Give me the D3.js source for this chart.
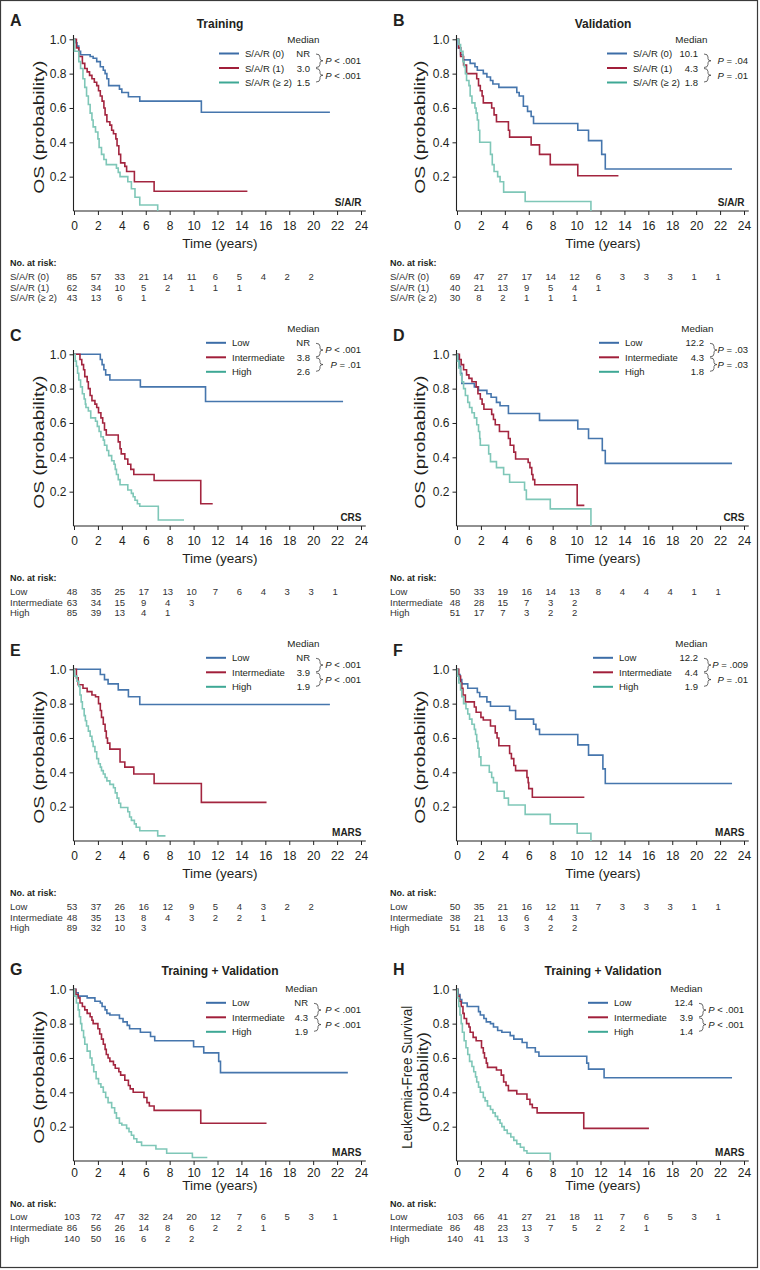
<!DOCTYPE html>
<html><head><meta charset="utf-8">
<script src="https://cdn.jsdelivr.net/npm/d3@7"></script>
<style>
body{margin:0;background:#fff;}
svg{display:block;font-family:"Liberation Sans",Arial,Helvetica,sans-serif;}
</style></head><body>
<svg id="chart" width="760" height="1270"></svg>
<script>
// ---------- shared tick / category arrays ----------
const timeTicks = [0,2,4,6,8,10,12,14,16,18,20,22,24];
const probTicks = [0.2,0.4,0.6,0.8,1.0];
const riskTimes = [0,2,4,6,8,10,12,14,16,18,20,22];
const sarGroups = ["S/A/R (0)","S/A/R (1)","S/A/R (\u2265 2)"];
const riskGroups = ["Low","Intermediate","High"];

// ---------- Panel A : Training, S/A/R ----------
const A_g0 = [[0,1],[0.1,0.98],[0.25,0.96],[0.4,0.93],[0.55,0.91],[1.35,0.90],[1.6,0.89],[1.9,0.87],[2.2,0.84],[2.45,0.82],[2.6,0.80],[2.75,0.77],[2.9,0.73],[3.8,0.71],[4.0,0.69],[4.55,0.665],[5.5,0.64],[10.65,0.575],[21.4,0.575]];
const A_g1 = [[0,1],[0.2,0.95],[0.4,0.90],[0.7,0.86],[0.9,0.83],[1.1,0.81],[1.3,0.79],[1.5,0.77],[1.7,0.75],[1.9,0.73],[2.05,0.70],[2.2,0.67],[2.35,0.64],[2.5,0.60],[2.6,0.56],[2.75,0.52],[3.0,0.50],[3.15,0.47],[3.3,0.45],[3.5,0.42],[3.6,0.38],[3.75,0.33],[3.9,0.28],[4.25,0.26],[4.4,0.23],[5.05,0.17],[6.7,0.115],[14.5,0.115]];
const A_g2 = [[0,1],[0.05,0.93],[0.4,0.87],[0.55,0.83],[0.75,0.77],[0.9,0.72],[1.05,0.67],[1.2,0.62],[1.35,0.57],[1.5,0.53],[1.6,0.49],[1.8,0.46],[2.0,0.42],[2.1,0.37],[2.3,0.33],[2.5,0.30],[2.7,0.27],[3.55,0.25],[3.7,0.225],[3.85,0.20],[4.5,0.17],[4.8,0.13],[5.1,0.08],[5.5,0.035],[7.0,0]];
const A_medians = ["NR","3.0","1.5"];
const A_pvals = ["< .001","< .001"];
const A_risk = [[85,57,33,21,14,11,6,5,4,2,2],[62,34,10,5,2,1,1,1],[43,13,6,1]];

// ---------- Panel B : Validation, S/A/R ----------
const B_g0 = [[0,1],[0.1,0.95],[0.3,0.91],[0.5,0.88],[1.1,0.86],[1.5,0.84],[1.7,0.82],[2.2,0.80],[2.5,0.78],[2.8,0.76],[3.0,0.74],[3.5,0.72],[5.0,0.69],[5.2,0.67],[5.55,0.61],[5.9,0.58],[6.2,0.55],[6.4,0.51],[10.1,0.47],[11.0,0.41],[12.1,0.33],[12.4,0.245],[23.0,0.245]];
const B_g1 = [[0,1],[0.15,0.95],[0.3,0.90],[0.55,0.85],[0.8,0.80],[1.65,0.77],[1.8,0.73],[1.95,0.70],[2.1,0.67],[2.2,0.63],[2.9,0.60],[3.1,0.56],[3.3,0.52],[4.3,0.47],[4.4,0.43],[6.2,0.385],[6.9,0.33],[7.8,0.27],[10.1,0.205],[13.5,0.205]];
const B_g2 = [[0,1],[0.15,0.97],[0.3,0.93],[0.5,0.87],[0.6,0.84],[0.7,0.80],[0.8,0.76],[1.0,0.73],[1.1,0.67],[1.25,0.63],[1.5,0.60],[1.6,0.57],[1.7,0.53],[1.8,0.47],[1.9,0.40],[2.8,0.33],[2.95,0.27],[3.1,0.23],[3.4,0.20],[3.6,0.17],[3.9,0.11],[5.7,0.055],[11.2,0]];
const B_medians = ["10.1","4.3","1.8"];
const B_pvals = ["= .04","= .01"];
const B_risk = [[69,47,27,17,14,12,6,3,3,3,1,1],[40,21,13,9,5,4,1],[30,8,2,1,1,1]];

// ---------- Panel C : Training, CRS ----------
const C_low = [[0,1],[2.2,0.97],[2.35,0.94],[2.5,0.91],[2.65,0.88],[3.0,0.85],[5.55,0.81],[11.0,0.725],[22.5,0.725]];
const C_int = [[0,1],[0.5,0.97],[0.65,0.94],[0.8,0.91],[0.9,0.87],[1.1,0.84],[1.2,0.80],[1.35,0.76],[1.5,0.73],[1.75,0.71],[1.9,0.69],[2.05,0.66],[2.25,0.63],[2.4,0.60],[2.55,0.56],[2.7,0.53],[3.7,0.49],[3.85,0.45],[3.95,0.42],[4.25,0.39],[4.5,0.36],[4.75,0.33],[5.0,0.30],[6.7,0.265],[10.6,0.13],[11.6,0.13]];
const C_high = [[0,1],[0.1,0.96],[0.2,0.93],[0.3,0.89],[0.4,0.85],[0.55,0.81],[0.7,0.77],[0.85,0.74],[0.95,0.71],[1.0,0.69],[1.2,0.67],[1.4,0.63],[1.8,0.61],[1.95,0.58],[2.1,0.55],[2.25,0.52],[2.45,0.50],[2.55,0.47],[2.75,0.44],[2.9,0.41],[3.15,0.38],[3.35,0.36],[3.45,0.33],[3.55,0.30],[3.7,0.27],[3.85,0.24],[4.5,0.21],[4.8,0.19],[4.95,0.17],[5.1,0.15],[5.3,0.13],[5.5,0.115],[7.05,0.035],[9.2,0.035]];
const C_medians = ["NR","3.8","2.6"];
const C_pvals = ["< .001","= .01"];
const C_risk = [[48,35,25,17,13,10,7,6,4,3,3,1],[63,34,15,9,4,3],[85,39,13,4,1]];

// ---------- Panel D : Validation, CRS ----------
const D_low = [[0,1],[0.1,0.97],[0.2,0.93],[0.3,0.89],[0.4,0.83],[1.45,0.81],[1.8,0.79],[2.5,0.77],[2.85,0.75],[3.3,0.72],[3.6,0.70],[4.3,0.655],[6.9,0.615],[10.1,0.565],[11.0,0.51],[12.15,0.44],[12.4,0.365],[23.0,0.365]];
const D_int = [[0,1],[0.2,0.97],[0.35,0.94],[0.55,0.91],[0.8,0.88],[1.0,0.86],[1.25,0.84],[1.6,0.81],[1.75,0.77],[1.95,0.74],[2.1,0.71],[2.25,0.68],[2.9,0.65],[3.05,0.62],[3.2,0.59],[3.55,0.55],[4.3,0.51],[4.45,0.47],[4.75,0.43],[4.9,0.39],[5.95,0.37],[6.1,0.34],[6.25,0.30],[6.35,0.27],[6.5,0.24],[10.05,0.12],[10.65,0.12]];
const D_high = [[0,1],[0.05,0.96],[0.15,0.92],[0.3,0.88],[0.4,0.84],[0.55,0.80],[0.7,0.76],[0.9,0.72],[1.05,0.69],[1.25,0.66],[1.45,0.63],[1.65,0.59],[1.8,0.55],[1.9,0.51],[1.95,0.47],[2.65,0.42],[2.8,0.375],[3.3,0.34],[3.9,0.30],[4.4,0.255],[5.65,0.21],[5.8,0.155],[7.8,0.10],[11.2,0]];
const D_medians = ["12.2","4.3","1.8"];
const D_pvals = ["= .03","= .03"];
const D_risk = [[50,33,19,16,14,13,8,4,4,4,1,1],[48,28,15,7,3,2],[51,17,7,3,2,2]];

// ---------- Panel E : Training, MARS ----------
const E_low = [[0,1],[2.2,0.97],[2.55,0.94],[2.85,0.915],[3.7,0.88],[4.55,0.84],[5.5,0.795],[21.4,0.795]];
const E_int = [[0,1],[0.2,0.95],[0.35,0.91],[0.75,0.89],[1.1,0.87],[1.5,0.85],[1.8,0.84],[2.05,0.80],[2.2,0.76],[2.3,0.72],[2.45,0.68],[2.6,0.64],[2.7,0.60],[2.8,0.57],[3.0,0.535],[3.85,0.46],[4.25,0.43],[5.0,0.39],[6.7,0.335],[10.65,0.225],[16.1,0.225]];
const E_high = [[0,1],[0.05,0.96],[0.25,0.93],[0.4,0.90],[0.5,0.85],[0.6,0.81],[0.7,0.77],[0.85,0.73],[0.95,0.70],[1.05,0.67],[1.2,0.64],[1.35,0.61],[1.5,0.58],[1.6,0.55],[1.75,0.52],[1.9,0.48],[2.05,0.45],[2.2,0.43],[2.3,0.41],[2.45,0.39],[2.6,0.37],[2.75,0.35],[3.0,0.33],[3.3,0.31],[3.45,0.28],[3.6,0.25],[3.75,0.22],[3.9,0.195],[4.5,0.17],[4.65,0.14],[4.8,0.12],[5.05,0.10],[5.2,0.08],[5.5,0.06],[7.0,0.03],[7.65,0.03]];
const E_medians = ["NR","3.9","1.9"];
const E_pvals = ["< .001","< .001"];
const E_risk = [[53,37,26,16,12,9,5,4,3,2,2],[48,35,13,8,4,3,2,2,1],[89,32,10,3]];

// ---------- Panel F : Validation, MARS ----------
const F_low = [[0,1],[0.1,0.97],[0.25,0.94],[0.4,0.915],[0.9,0.89],[1.7,0.865],[1.9,0.84],[2.5,0.81],[2.8,0.785],[4.4,0.76],[4.9,0.71],[6.4,0.68],[6.6,0.65],[6.9,0.62],[10.1,0.56],[11.0,0.50],[12.2,0.42],[12.4,0.335],[23.0,0.335]];
const F_int = [[0,1],[0.15,0.96],[0.3,0.92],[0.4,0.89],[0.5,0.85],[0.7,0.81],[1.45,0.78],[1.6,0.75],[2.0,0.72],[2.2,0.705],[2.8,0.67],[3.2,0.63],[3.35,0.60],[3.5,0.555],[4.4,0.51],[4.55,0.48],[4.75,0.44],[4.9,0.41],[5.85,0.37],[5.95,0.34],[6.0,0.305],[6.3,0.255],[10.65,0.255]];
const F_high = [[0,1],[0.05,0.96],[0.15,0.92],[0.3,0.88],[0.4,0.84],[0.55,0.80],[0.75,0.77],[0.9,0.74],[1.05,0.71],[1.25,0.68],[1.45,0.65],[1.55,0.62],[1.65,0.58],[1.75,0.54],[1.85,0.49],[2.0,0.44],[2.7,0.40],[2.9,0.37],[3.05,0.34],[3.35,0.29],[3.95,0.25],[4.3,0.21],[5.7,0.155],[7.8,0.10],[10.05,0.045],[11.2,0]];
const F_medians = ["12.2","4.4","1.9"];
const F_pvals = ["= .009","= .01"];
const F_risk = [[50,35,21,16,12,11,7,3,3,3,1,1],[38,21,13,6,4,3],[51,18,6,3,2,2]];

// ---------- Panel G : Training + Validation, MARS (OS) ----------
const G_low = [[0,1],[0.15,0.98],[0.35,0.96],[1.1,0.95],[1.75,0.93],[2.2,0.92],[2.35,0.90],[2.6,0.88],[2.75,0.86],[3.0,0.85],[3.8,0.83],[4.1,0.81],[4.45,0.79],[4.65,0.77],[5.55,0.75],[6.4,0.725],[6.75,0.70],[10.0,0.665],[10.85,0.63],[12.1,0.58],[12.25,0.515],[22.9,0.515]];
const G_int = [[0,1],[0.15,0.97],[0.35,0.95],[0.5,0.92],[0.7,0.90],[0.9,0.88],[1.1,0.86],[1.35,0.84],[1.5,0.82],[1.6,0.80],[2.0,0.77],[2.15,0.74],[2.3,0.71],[2.45,0.68],[2.6,0.65],[2.7,0.62],[2.85,0.60],[3.0,0.58],[3.3,0.56],[3.45,0.54],[3.75,0.52],[3.9,0.50],[4.25,0.47],[4.55,0.44],[4.7,0.42],[4.95,0.40],[5.85,0.37],[6.1,0.34],[6.3,0.32],[6.7,0.295],[10.6,0.22],[16.1,0.22]];
const G_high = [[0,1],[0.05,0.96],[0.2,0.92],[0.35,0.88],[0.45,0.84],[0.55,0.80],[0.65,0.76],[0.8,0.72],[0.9,0.68],[1.1,0.64],[1.35,0.60],[1.5,0.56],[1.65,0.52],[1.85,0.48],[2.05,0.45],[2.25,0.43],[2.45,0.40],[2.65,0.37],[2.85,0.34],[3.15,0.31],[3.4,0.28],[3.55,0.25],[3.8,0.22],[4.0,0.21],[4.4,0.19],[4.6,0.17],[4.8,0.15],[5.0,0.13],[5.25,0.11],[5.65,0.09],[6.85,0.07],[7.75,0.045],[9.9,0.02],[11.15,0.02]];
const G_medians = ["NR","4.3","1.9"];
const G_pvals = ["< .001","< .001"];
const G_risk = [[103,72,47,32,24,20,12,7,6,5,3,1],[86,56,26,14,8,6,2,2,1],[140,50,16,6,2,2]];

// ---------- Panel H : Training + Validation, MARS (LFS) ----------
const H_low = [[0,1],[0.1,0.97],[0.25,0.94],[0.4,0.92],[0.85,0.90],[1.8,0.87],[1.95,0.85],[2.25,0.83],[2.45,0.81],[2.8,0.80],[3.05,0.78],[3.4,0.76],[3.75,0.75],[4.45,0.73],[4.75,0.71],[5.45,0.69],[5.85,0.66],[6.55,0.635],[6.85,0.61],[10.85,0.57],[11.0,0.535],[12.3,0.485],[23.0,0.485]];
const H_int = [[0,1],[0.05,0.96],[0.2,0.93],[0.35,0.90],[0.5,0.86],[0.6,0.83],[0.8,0.80],[1.0,0.78],[1.1,0.75],[1.35,0.72],[1.6,0.70],[2.05,0.66],[2.2,0.63],[2.3,0.60],[2.45,0.57],[2.55,0.545],[3.3,0.53],[3.7,0.50],[3.9,0.46],[4.1,0.44],[4.3,0.41],[5.0,0.39],[5.85,0.36],[6.1,0.33],[6.3,0.31],[6.7,0.28],[10.6,0.19],[16.05,0.19]];
const H_high = [[0,1],[0.05,0.95],[0.15,0.90],[0.25,0.85],[0.35,0.80],[0.45,0.75],[0.6,0.70],[0.75,0.66],[0.9,0.62],[1.05,0.58],[1.25,0.55],[1.4,0.52],[1.55,0.49],[1.65,0.46],[1.8,0.43],[1.95,0.40],[2.2,0.37],[2.35,0.35],[2.55,0.32],[2.8,0.30],[3.0,0.28],[3.2,0.26],[3.4,0.24],[3.6,0.22],[3.75,0.20],[3.95,0.18],[4.2,0.16],[4.5,0.14],[4.75,0.12],[5.0,0.10],[5.3,0.08],[5.6,0.06],[5.85,0.045],[7.8,0]];
const H_medians = ["12.4","3.9","1.4"];
const H_pvals = ["< .001","< .001"];
const H_risk = [[103,66,41,27,21,18,11,7,6,5,3,1],[86,48,23,13,7,5,2,2,1],[140,41,13,3]];

// ---------- panel assembly (data references) ----------
const panels = [
  {id:"A", col:0, row:0, title:"Training", groups:sarGroups, curves:[A_g0,A_g1,A_g2], med:A_medians, p:A_pvals, risk:A_risk, score:"S/A/R", ylab:["OS (probability)"]},
  {id:"B", col:1, row:0, title:"Validation", groups:sarGroups, curves:[B_g0,B_g1,B_g2], med:B_medians, p:B_pvals, risk:B_risk, score:"S/A/R", ylab:["OS (probability)"]},
  {id:"C", col:0, row:1, title:"", groups:riskGroups, curves:[C_low,C_int,C_high], med:C_medians, p:C_pvals, risk:C_risk, score:"CRS", ylab:["OS (probability)"]},
  {id:"D", col:1, row:1, title:"", groups:riskGroups, curves:[D_low,D_int,D_high], med:D_medians, p:D_pvals, risk:D_risk, score:"CRS", ylab:["OS (probability)"]},
  {id:"E", col:0, row:2, title:"", groups:riskGroups, curves:[E_low,E_int,E_high], med:E_medians, p:E_pvals, risk:E_risk, score:"MARS", ylab:["OS (probability)"]},
  {id:"F", col:1, row:2, title:"", groups:riskGroups, curves:[F_low,F_int,F_high], med:F_medians, p:F_pvals, risk:F_risk, score:"MARS", ylab:["OS (probability)"]},
  {id:"G", col:0, row:3, title:"Training + Validation", groups:riskGroups, curves:[G_low,G_int,G_high], med:G_medians, p:G_pvals, risk:G_risk, score:"MARS", ylab:["OS (probability)"]},
  {id:"H", col:1, row:3, title:"Training + Validation", groups:riskGroups, curves:[H_low,H_int,H_high], med:H_medians, p:H_pvals, risk:H_risk, score:"MARS", ylab:["Leukemia-Free Survival","(probability)"]}
];

// ---------- layout / style (positions, not data) ----------
const colLayout = [
  {r0:74, r1:361, letterX:10, riskLabelX:10, ylabX:39},
  {r0:457, r1:744, letterX:393, riskLabelX:390, ylabX:420}
];
const rowLayout = [
  {top:39.3, letterY:26, titleY:27.5, legY:39, tickPad:6, timeY:247.5, riskY:266.3},
  {top:354.3, letterY:340.5, titleY:0, legY:328.3, tickPad:6, timeY:562.5, riskY:581.3},
  {top:669.3, letterY:655.5, titleY:0, legY:643.3, tickPad:6, timeY:877.5, riskY:896.3},
  {top:989.3, letterY:975, titleY:975, legY:988.3, tickPad:3.5, timeY:1190, riskY:1206.6}
];
const legendLayout = {
  A:{lineX:219, medR:310, pR:361}, B:{lineX:607, medR:698, pR:748},
  C:{lineX:206, medR:310, pR:361}, D:{lineX:599, medR:704, pR:748},
  E:{lineX:206, medR:310, pR:361}, F:{lineX:593, medR:698, pR:748},
  G:{lineX:206, medR:308, pR:361}, H:{lineX:588, medR:693, pR:744}
};
const curveColors = ["#4676ad","#a3253f","#7fc7b8"];
const legendColors = ["#3c6da7","#a11f3a","#3ea895"];
const textColor = "#231f20";
const plotH = 171.7;

const svg = d3.select("#chart");
svg.append("rect").attr("x",0.5).attr("y",0.5).attr("width",757).attr("height",1267)
  .attr("fill","none").attr("stroke","#3a3a3a").attr("stroke-width",1.2);

panels.forEach(p => {
  const c = colLayout[p.col], r = rowLayout[p.row], L = legendLayout[p.id];
  const x = d3.scaleLinear().domain([0,24]).range([c.r0, c.r1]);
  const y = d3.scaleLinear().domain([0,1]).range([r.top + plotH, r.top]);
  const g = svg.append("g");

  // panel letter
  g.append("text").attr("x", c.letterX).attr("y", r.letterY)
    .attr("font-size", 16).attr("font-weight", "bold").attr("fill", textColor).text(p.id);
  // title
  if (p.title) {
    g.append("text").attr("x", (c.r0 + c.r1)/2 + 2.5).attr("y", r.titleY)
      .attr("text-anchor","middle").attr("font-size",12).attr("font-weight","bold")
      .attr("fill", textColor).text(p.title);
  }

  // axes
  const xa = g.append("g").attr("transform", `translate(0,${y(0)})`)
    .call(d3.axisBottom(x).tickValues(timeTicks).tickSize(4).tickPadding(r.tickPad).tickFormat(d3.format("d")));
  const ya = g.append("g").attr("transform", `translate(${x(0)-0.5},0)`)
    .call(d3.axisLeft(y).tickValues(probTicks).tickSize(4).tickPadding(3).tickFormat(d3.format(".1f")));
  [xa, ya].forEach(a => {
    a.select(".domain").remove();
    a.selectAll("line").attr("stroke","#222");
    a.selectAll("text").attr("font-size",12).attr("fill",textColor).attr("font-family",null);
  });
  g.append("line").attr("x1", x(0)-0.5).attr("x2", x(24.4)).attr("y1", y(0)).attr("y2", y(0))
    .attr("stroke","#222").attr("stroke-width",1.1);
  g.append("line").attr("x1", x(0)-0.5).attr("x2", x(0)-0.5).attr("y1", y(0)).attr("y2", y(1.025))
    .attr("stroke","#222").attr("stroke-width",1.1);

  // axis titles
  g.append("text").attr("x", (c.r0 + c.r1)/2 + 2.5).attr("y", r.timeY)
    .attr("text-anchor","middle").attr("font-size",13.5).attr("fill",textColor).text("Time (years)");
  const yc = y(0.5) + 2;
  if (p.ylab.length === 1) {
    g.append("text").attr("transform", `translate(${c.ylabX},${yc}) rotate(-90)`)
      .attr("text-anchor","middle").attr("dy","0.35em").attr("font-size",15.5)
      .attr("textLength",133).attr("lengthAdjust","spacingAndGlyphs")
      .attr("fill",textColor).text(p.ylab[0]);
  } else {
    g.append("text").attr("transform", `translate(${c.ylabX-13},${yc}) rotate(-90)`)
      .attr("text-anchor","middle").attr("dy","0.35em").attr("font-size",14)
      .attr("textLength",143).attr("lengthAdjust","spacingAndGlyphs")
      .attr("fill",textColor).text(p.ylab[0]);
    g.append("text").attr("transform", `translate(${c.ylabX+3},${yc}) rotate(-90)`)
      .attr("text-anchor","middle").attr("dy","0.35em").attr("font-size",14)
      .attr("textLength",90).attr("lengthAdjust","spacingAndGlyphs")
      .attr("fill",textColor).text(p.ylab[1]);
  }

  // curves
  const line = d3.line().x(d => x(d[0])).y(d => y(d[1])).curve(d3.curveStepAfter);
  p.curves.forEach((cv, i) => {
    g.append("path").attr("d", line(cv)).attr("fill","none")
      .attr("stroke", curveColors[i]).attr("stroke-width",1.6);
  });

  // score label
  g.append("text").attr("x", x(24) + 0.5).attr("y", y(0) - 5.5).attr("text-anchor","end")
    .attr("font-size",10).attr("font-weight","bold").attr("fill",textColor).text(p.score);

  // legend
  const ly = i => r.legY + 14.5*(i+1);
  g.append("text").attr("x", L.medR + 9.5).attr("y", r.legY + 3.5).attr("text-anchor","end")
    .attr("font-size",9.8).attr("fill",textColor).text("Median");
  p.groups.forEach((gr, i) => {
    g.append("line").attr("x1", L.lineX).attr("x2", L.lineX + 20).attr("y1", ly(i)).attr("y2", ly(i))
      .attr("stroke", legendColors[i]).attr("stroke-width",2);
    g.append("text").attr("x", L.lineX + 26).attr("y", ly(i) + 3.5)
      .attr("font-size",9.5).attr("fill",textColor).text(gr);
    g.append("text").attr("x", L.medR).attr("y", ly(i) + 3.5).attr("text-anchor","end")
      .attr("font-size",9.5).attr("fill",textColor).text(p.med[i]);
  });
  p.p.forEach((pv, i) => {
    const y1 = ly(i) + 0.5, y2 = ly(i+1) - 0.5, ym = (y1 + y2)/2, bx = L.medR + 10;
    g.append("path")
      .attr("d", `M${bx-4},${y1} Q${bx},${y1} ${bx},${y1+3} L${bx},${ym-2} Q${bx},${ym} ${bx+3},${ym} Q${bx},${ym} ${bx},${ym+2} L${bx},${y2-3} Q${bx},${y2} ${bx-4},${y2}`)
      .attr("fill","none").attr("stroke","#444").attr("stroke-width",0.8);
    const t = g.append("text").attr("x", L.pR).attr("y", ym + 3.3).attr("text-anchor","end")
      .attr("font-size",9.5).attr("fill",textColor);
    t.append("tspan").attr("font-style","italic").text("P");
    t.append("tspan").text(" " + pv);
  });

  // risk table
  g.append("text").attr("x", c.riskLabelX).attr("y", r.riskY).attr("font-size",9)
    .attr("font-weight","bold").attr("fill",textColor).text("No. at risk:");
  const rowOff = [13.6, 24.3, 35];
  p.groups.forEach((gr, i) => {
    const yy = r.riskY + rowOff[i];
    g.append("text").attr("x", c.riskLabelX).attr("y", yy).attr("font-size",9.5)
      .attr("fill","#333").text(gr);
    p.risk[i].forEach((n, k) => {
      g.append("text").attr("x", x(riskTimes[k]) - 2).attr("y", yy).attr("text-anchor","middle")
        .attr("font-size",9.5).attr("fill","#333").text(n);
    });
  });
});
</script>
</body></html>
